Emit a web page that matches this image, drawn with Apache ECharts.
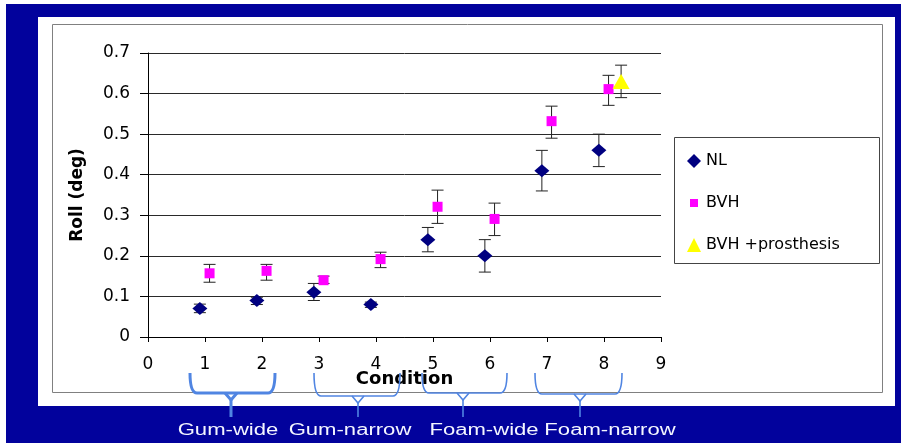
<!DOCTYPE html>
<html>
<head>
<meta charset="utf-8">
<script src="https://cdn.jsdelivr.net/npm/echarts@6/dist/echarts.min.js"></script>
<style>html,body{margin:0;padding:0;background:#fff}#c{width:901px;height:445px}</style>
</head>
<body>
<div id="c"></div>
<script>
// ---- data ----
const conditions = [1, 2, 3, 4, 5, 6, 7, 8];
const nlMean = [0.07, 0.09, 0.11, 0.08, 0.24, 0.20, 0.41, 0.46];
const nlLow  = [0.06, 0.08, 0.09, 0.073, 0.21, 0.16, 0.36, 0.42];
const nlHigh = [0.081, 0.098, 0.132, 0.086, 0.27, 0.24, 0.46, 0.50];
const bvhMean = [0.157, 0.163, 0.14, 0.192, 0.321, 0.291, 0.532, 0.611];
const bvhLow  = [0.135, 0.14, 0.132, 0.171, 0.28, 0.25, 0.49, 0.571];
const bvhHigh = [0.179, 0.179, 0.15, 0.209, 0.362, 0.33, 0.569, 0.645];
const prosCondition = [8];
const prosMean = [0.63];
const prosLow = [0.59];
const prosHigh = [0.67];
const groupLabels = ['Gum-wide', 'Gum-narrow', 'Foam-wide', 'Foam-narrow'];
const xTicks = [0, 1, 2, 3, 4, 5, 6, 7, 8, 9];
const yTicks = [0, 0.1, 0.2, 0.3, 0.4, 0.5, 0.6, 0.7];

// display offsets (Excel-style side-by-side)
const nlOff = -0.09, bvhOff = 0.08, prosOff = 0.3;

const pts = (xs, ys, off) => xs.map((c, i) => [c + off, ys[i]]);
const errs = (xs, lo, hi, off) => xs.map((c, i) => [c + off, lo[i], hi[i]]);

function errRender(params, api) {
  const x = api.value(0);
  const a = api.coord([x, api.value(1)]);
  const b = api.coord([x, api.value(2)]);
  const w = 6;
  const st = { stroke: '#222', lineWidth: 1 };
  return {
    type: 'group',
    children: [
      { type: 'line', shape: { x1: a[0], y1: a[1], x2: b[0], y2: b[1] }, style: st },
      { type: 'line', shape: { x1: a[0] - w, y1: a[1], x2: a[0] + w, y2: a[1] }, style: st },
      { type: 'line', shape: { x1: b[0] - w, y1: b[1], x2: b[0] + w, y2: b[1] }, style: st }
    ]
  };
}

function brace(xl, xr, xc, yTop, yBar, yStem, lw) {
  const r = 7;
  const st = { stroke: '#5085E2', lineWidth: lw, fill: null };
  return {
    type: 'group', z: 20,
    children: [
      { type: 'bezierCurve', z: 20, shape: { x1: xl, y1: yTop, x2: xl + r, y2: yBar, cpx1: xl, cpy1: yBar }, style: st },
      { type: 'line', z: 20, shape: { x1: xl + r, y1: yBar, x2: xr - r, y2: yBar }, style: st },
      { type: 'bezierCurve', z: 20, shape: { x1: xr, y1: yTop, x2: xr - r, y2: yBar, cpx1: xr, cpy1: yBar }, style: st },
      { type: 'polyline', z: 20, shape: { points: [[xc - 6, yBar], [xc, yBar + 7], [xc + 6, yBar]] }, style: st },
      { type: 'line', z: 20, shape: { x1: xc, y1: yBar + 7, x2: xc, y2: yStem }, style: st }
    ]
  };
}

const braceDefs = [
  [190, 275, 231, 373, 393, 417, 3],
  [314, 400, 358, 373, 396, 417, 1.6],
  [422, 507, 463, 373, 393, 417, 1.6],
  [535, 622, 580, 373, 394, 417, 1.6]
];
const labelX = [228, 350, 484, 610];

const chart = echarts.init(document.getElementById('c'));
const FONT = 'DejaVu Sans, sans-serif';
const LFONT = 'Liberation Sans, Arial, sans-serif';

const graphics = [
  { type: 'rect', z: -10, shape: { x: 6, y: 4, width: 895, height: 439 }, style: { fill: '#02029C' } },
  { type: 'rect', z: -9, shape: { x: 38, y: 17, width: 857, height: 389 }, style: { fill: '#ffffff' } },
  { type: 'rect', z: -8, shape: { x: 52.5, y: 24.5, width: 830, height: 368 }, style: { fill: '#ffffff', stroke: '#808080', lineWidth: 1 } },
  { type: 'rect', z: -7, shape: { x: 674.5, y: 137.5, width: 205, height: 126 }, style: { fill: '#ffffff', stroke: '#444', lineWidth: 1 } }
];
braceDefs.forEach(b => graphics.push(brace(...b)));
groupLabels.forEach((t, i) => graphics.push({
  type: 'text', z: 20, x: labelX[i], y: 431, scaleX: 1.38,
  style: { text: t, fill: '#F4F6FF', font: '16px ' + LFONT, textAlign: 'center', textVerticalAlign: 'middle' }
}));

chart.setOption({
  backgroundColor: '#ffffff',
  animation: false,
  textStyle: { fontFamily: FONT },
  graphic: graphics,
  grid: { left: 148, right: 240, top: 53, bottom: 108, containLabel: false },
  legend: {
    orient: 'vertical', left: 682, top: 148, itemGap: 26, itemWidth: 14, itemHeight: 14,
    textStyle: { fontSize: 16, color: '#000', fontFamily: FONT, lineHeight: 16 },
    data: [
      { name: 'NL', icon: 'diamond' },
      { name: 'BVH', icon: 'path://M0,0M14,14M3,3L11,3L11,11L3,11Z' },
      { name: 'BVH +prosthesis', icon: 'triangle' }
    ]
  },
  xAxis: {
    type: 'value', min: 0, max: 9, interval: 1,
    name: 'Condition', nameLocation: 'middle', nameGap: 33, nameMoveOverlap: false,
    nameTextStyle: { fontSize: 18, fontWeight: 'bold', color: '#000', fontFamily: FONT },
    axisLine: { show: true, onZero: false, lineStyle: { color: '#000', width: 1 } },
    axisTick: { show: true, inside: false, length: 5, lineStyle: { color: '#000' } },
    axisLabel: { fontSize: 17, color: '#000', margin: 19, formatter: v => xTicks.includes(v) ? String(v) : '' },
    splitLine: { show: false }
  },
  yAxis: {
    type: 'value', min: 0, max: 0.7, interval: 0.1,
    name: 'Roll (deg)', nameLocation: 'middle', nameGap: 62, nameRotate: 90, nameMoveOverlap: false,
    nameTextStyle: { fontSize: 17, fontWeight: 'bold', color: '#000', fontFamily: FONT },
    axisLine: { show: true, lineStyle: { color: '#000', width: 1 } },
    axisTick: { show: true, inside: false, length: 8, lineStyle: { color: '#000' } },
    axisLabel: { fontSize: 17, color: '#000', margin: 18,
      formatter: v => { const t = yTicks.find(k => Math.abs(k - v) < 1e-9); return t === undefined ? '' : (t === 0 ? '0' : t.toFixed(1)); } },
    splitLine: { show: true, lineStyle: { color: '#2a2a2a', width: 1 } }
  },
  series: [
    { type: 'custom', name: 'NL err', renderItem: errRender, data: errs(conditions, nlLow, nlHigh, nlOff), z: 3, silent: true, encode: { x: 0, y: [1, 2] } },
    { type: 'custom', name: 'BVH err', renderItem: errRender, data: errs(conditions, bvhLow, bvhHigh, bvhOff), z: 3, silent: true, encode: { x: 0, y: [1, 2] } },
    { type: 'custom', name: 'pros err', renderItem: errRender, data: errs(prosCondition, prosLow, prosHigh, prosOff), z: 3, silent: true, encode: { x: 0, y: [1, 2] } },
    { type: 'scatter', name: 'NL', symbol: 'diamond', symbolSize: [15, 13], itemStyle: { color: '#000080', opacity: 1 }, data: pts(conditions, nlMean, nlOff), z: 5 },
    { type: 'scatter', name: 'BVH', symbol: 'rect', symbolSize: [10, 10], itemStyle: { color: '#FF00FF', opacity: 1 }, data: pts(conditions, bvhMean, bvhOff), z: 5 },
    { type: 'scatter', name: 'BVH +prosthesis', symbol: 'triangle', symbolSize: [17, 15], itemStyle: { color: '#FFFF00', opacity: 1 }, data: pts(prosCondition, prosMean, prosOff), z: 6 }
  ]
});
</script>
</body>
</html>
